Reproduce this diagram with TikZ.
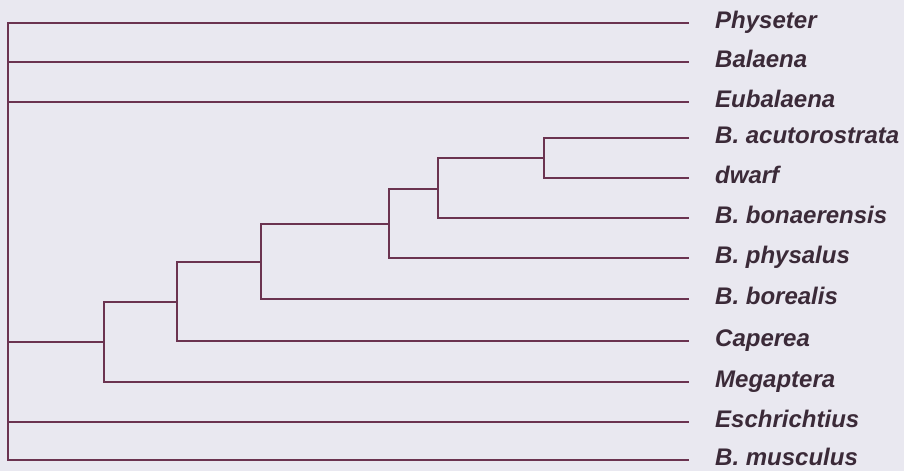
\documentclass[tikz,border=0pt]{standalone}
\usepackage{fontspec}
\setmainfont{Liberation Sans}
\usetikzlibrary{positioning}
\definecolor{branchcol}{HTML}{6B3350}
\definecolor{labelcol}{HTML}{3B2A38}
\definecolor{papercol}{HTML}{E9E8F0}

\begin{document}
\begin{tikzpicture}[x=1pt,y=-1pt,
		branch/.style={draw=branchcol, line width=1.8pt},
		taxon/.style={anchor=base west, inner sep=0pt, text=labelcol,
			font=\fontsize{24}{28}\selectfont\bfseries\itshape}]
		\fill[papercol] (0,0) rectangle (904,471);
		\useasboundingbox (0,0) rectangle (904,471);
		% leaves
		\foreach \name/\lab/\y in {phy/{Physeter}/23, bal/{Balaena}/62, eub/{Eubalaena}/102,
			acu/{B. acutorostrata}/138, dwa/{dwarf}/178, bon/{B. bonaerensis}/218,
			phs/{B. physalus}/258, bor/{B. borealis}/299, cap/{Caperea}/341,
			meg/{Megaptera}/382, esc/{Eschrichtius}/422, mus/{B. musculus}/460}
		{
			\coordinate (\name) at (689,\y);
			\node[taxon] (\name-lab) at (715,\y+5) {\lab};
		}
		% inner nodes
		\coordinate (n1) at (544,158);
		\coordinate (n2) at (438,189);
		\coordinate (n3) at (389,224);
		\coordinate (n4) at (261,262);
		\coordinate (n5) at (177,302);
		\coordinate (n6) at (104,342);
		\coordinate (root) at (8,460);
		\draw[branch] (acu) -| (n1) |- (dwa);
		\draw[branch] (n1) -| (n2) |- (bon);
		\draw[branch] (n2) -| (n3) |- (phs);
		\draw[branch] (n3) -| (n4) |- (bor);
		\draw[branch] (n4) -| (n5) |- (cap);
		\draw[branch] (n5) -| (n6) |- (meg);
		\draw[branch] (phy) -| (root) -- (mus);
		\foreach \name in {bal,eub,n6,esc}
		{
			\draw[branch] (root |- \name) -- (\name);
		}
	\end{tikzpicture}
\end{document}
